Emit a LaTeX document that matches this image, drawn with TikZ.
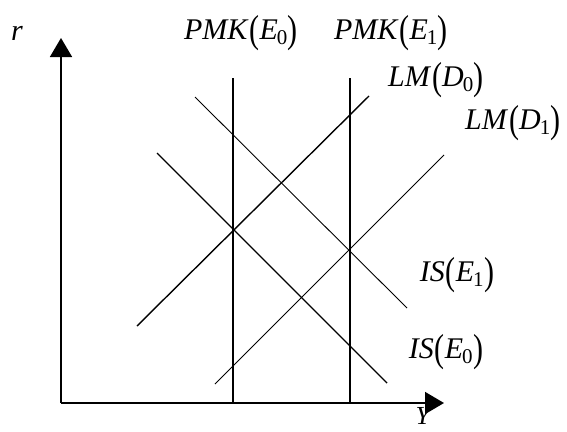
\documentclass[tikz,border=0pt]{standalone}
\usepackage{fontspec}
\usepackage{graphicx}
\setmainfont{Liberation Serif}
\usetikzlibrary{arrows.meta}
\newcommand{\curvelbl}[3]{\textit{#1}\kern1pt\raisebox{-0.1em}{\scalebox{1}[1.3]{(}}\textit{#2}\kern-1pt\textsubscript{#3}\raisebox{-0.1em}{\scalebox{1}[1.3]{)}}}

\begin{document}
\begin{tikzpicture}[x=1pt, y=-1pt, every node/.style={font=\fontsize{30}{32}\selectfont, inner sep=0pt}]
  \tikzset{
    axis/.style={line width=1.6pt, -{Triangle[length=19pt, width=22pt]}},
    pmk/.style={line width=1.4pt},
    curvebold/.style={line width=1.4pt},
    curvethin/.style={line width=0.9pt}
  }
  \useasboundingbox (0,0) rectangle (567,431);

  % --- axes ---
  \coordinate (O) at (61,403);
  \coordinate (rtip) at (61,38);
  \coordinate (ytip) at (444,403);
  \draw[axis] (O) -- (rtip);
  \draw[axis] (O) -- (ytip);
  \node (rlbl) at (17,33) {\textit{r}};
  \node[font=\fontsize{26}{28}\selectfont] (ylbl) at (424,416) {\textit{Y}};

  % --- PMK lines ---
  \coordinate (P0top) at (233,78); \coordinate (P0bot) at (233,403);
  \coordinate (P1top) at (350,78); \coordinate (P1bot) at (350,403);
  \draw[pmk] (P0top) -- (P0bot);
  \draw[pmk] (P1top) -- (P1bot);
  \node (pmk0) at (241,33) {\curvelbl{PMK}{E}{0}};
  \node (pmk1) at (391,33) {\curvelbl{PMK}{E}{1}};

  % --- LM curves ---
  \coordinate (LM0a) at (137,326); \coordinate (LM0b) at (369,96);
  \coordinate (LM1a) at (215,384); \coordinate (LM1b) at (444,155);
  \draw[curvebold] (LM0a) -- (LM0b);
  \draw[curvethin] (LM1a) -- (LM1b);
  \node (lm0) at (436,80) {\curvelbl{LM}{D}{0}};
  \node (lm1) at (513,123) {\curvelbl{LM}{D}{1}};

  % --- IS curves ---
  \coordinate (IS0a) at (157,153); \coordinate (IS0b) at (387,383);
  \coordinate (IS1a) at (195,97); \coordinate (IS1b) at (407,308);
  \draw[curvebold] (IS0a) -- (IS0b);
  \draw[curvethin] (IS1a) -- (IS1b);
  \node (is1) at (457,275) {\curvelbl{IS}{E}{1}};
  \node (is0) at (446,352) {\curvelbl{IS}{E}{0}};
\end{tikzpicture}
\end{document}
